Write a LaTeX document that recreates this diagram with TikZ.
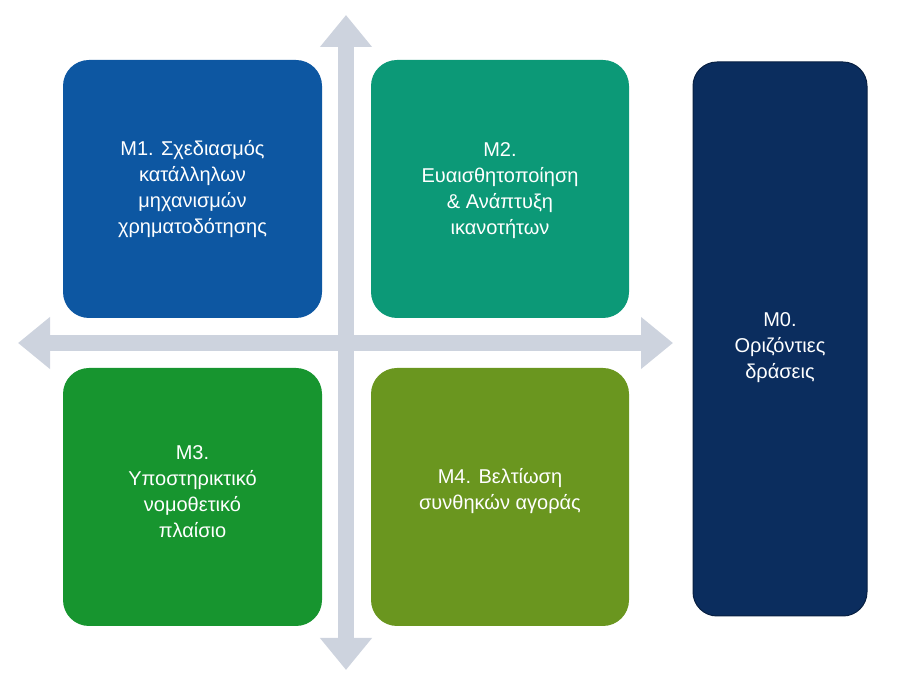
\documentclass[tikz,border=0pt]{standalone}
\usepackage{fontspec}
\setmainfont{Liberation Sans}
\usetikzlibrary{arrows.meta}
\definecolor{cM1}{HTML}{0D57A2}
\definecolor{cM2}{HTML}{0C9977}
\definecolor{cM3}{HTML}{17952F}
\definecolor{cM4}{HTML}{6A961F}
\definecolor{cM0}{HTML}{0B2D5E}
\definecolor{cAx}{HTML}{CDD3DE}
\tikzset{
  box/.style={rounded corners=26pt, text=white, align=center, font=\fontsize{20}{26}\selectfont, inner sep=0pt},
  axis/.style={cAx, line width=16pt, {Triangle[width=50pt,length=32pt]}-{Triangle[width=50pt,length=32pt]}}
}
\begin{document}
\begin{tikzpicture}[x=1pt,y=1pt]
\useasboundingbox (0,0) rectangle (916,691);
\coordinate (vt) at (346,676);
\coordinate (vb) at (346,21);
\coordinate (hl) at (18,348);
\coordinate (hr) at (673,348);
\draw[axis] (vb) -- (vt);
\draw[axis] (hl) -- (hr);
\fill[cM1, rounded corners=26pt] (63,373) rectangle (322,631);
\node[box] (m1) at (192.5,502) {M1. Σχεδιασμός\\κατάλληλων\\μηχανισμών\\χρηματοδότησης};
\fill[cM2, rounded corners=26pt] (371,373) rectangle (629,631);
\node[box] (m2) at (500,500) {M2.\\Ευαισθητοποίηση\\\& Ανάπτυξη\\ικανοτήτων};
\fill[cM3, rounded corners=26pt] (63,65) rectangle (322,323);
\node[box] (m3) at (192.5,199) {M3.\\Υποστηρικτικό\\νομοθετικό\\πλαίσιο};
\fill[cM4, rounded corners=26pt] (371,65) rectangle (629,323);
\node[box] (m4) at (500,200) {M4. Βελτίωση\\συνθηκών αγοράς};
\filldraw[fill=cM0, draw=cM0!70!black, line width=1pt, rounded corners=24pt] (693,75) rectangle (867,629);
\node[box] (m0) at (780,343) {M0.\\Οριζόντιες\\δράσεις};
\end{tikzpicture}
\end{document}
